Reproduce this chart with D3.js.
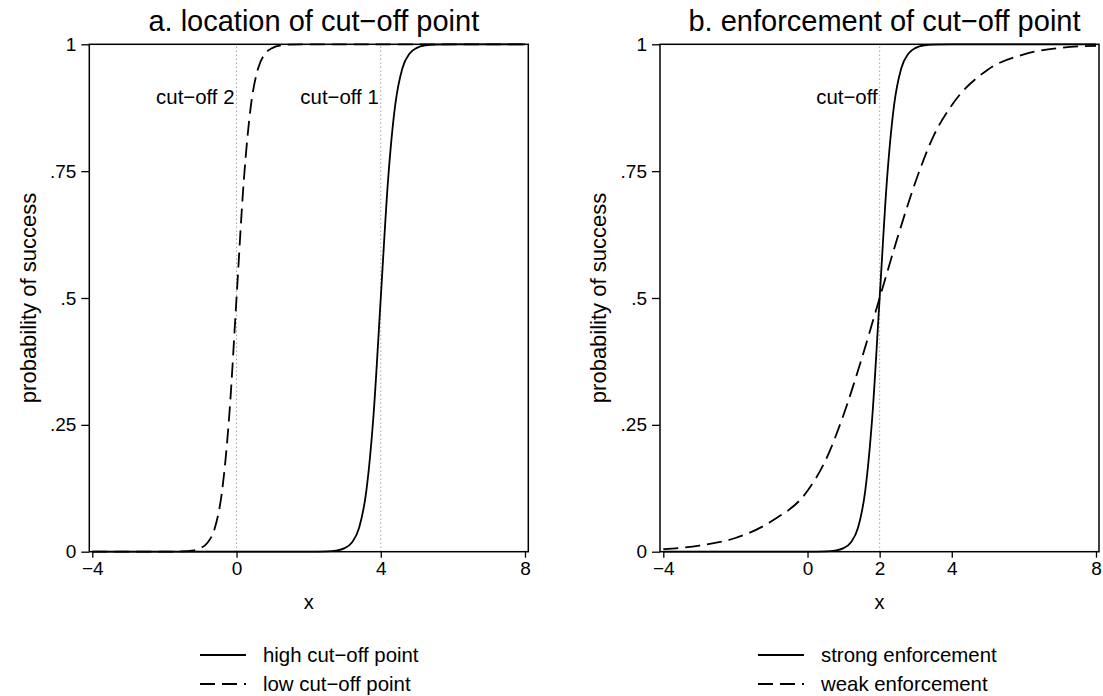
<!DOCTYPE html>
<html>
<head>
<meta charset="utf-8">
<script src="https://cdn.jsdelivr.net/npm/d3@7"></script>
<style>
  body { margin: 0; background: #fff; }
  svg { display: block; font-family: "Liberation Sans", Arial, Helvetica, sans-serif; }
</style>
</head>
<body>
<div id="chart"></div>
<script>
// values
const yTicks = [0, 0.25, 0.5, 0.75, 1];
const yTickLabels = ["0", ".25", ".5", ".75", "1"];
const xTicksA = [-4, 0, 4, 8];
const xTicksB = [-4, 0, 2, 4, 8];

// panel a: high cut-off (solid) and low cut-off (dashed)
const highX = [-4, 2, 2.5, 2.75, 3, 3.2, 3.4, 3.6, 3.8, 4, 4.2, 4.4, 4.6, 4.8, 5, 5.25, 5.5, 6, 8];
const highY = [0, 0.00005, 0.0006, 0.002, 0.007, 0.018, 0.047, 0.12, 0.27, 0.5, 0.73, 0.88, 0.953, 0.982, 0.993, 0.998, 0.9994, 1, 1];
const lowX = [-4, -2, -1.5, -1.25, -1, -0.8, -0.6, -0.4, -0.2, 0, 0.2, 0.4, 0.6, 0.8, 1, 1.25, 1.5, 2, 8];
const lowY = [0, 0.00005, 0.0006, 0.002, 0.007, 0.018, 0.047, 0.12, 0.27, 0.5, 0.73, 0.88, 0.953, 0.982, 0.993, 0.998, 0.9994, 1, 1];

// panel b: strong (solid) and weak (dashed) enforcement
const strongX = [-4, 0, 0.5, 0.75, 1, 1.2, 1.4, 1.6, 1.8, 2, 2.2, 2.4, 2.6, 2.8, 3, 3.25, 3.5, 4, 8];
const strongY = [0, 0.00005, 0.0006, 0.002, 0.007, 0.018, 0.047, 0.12, 0.27, 0.5, 0.73, 0.88, 0.953, 0.982, 0.993, 0.998, 0.9994, 1, 1];
const weakX = [-4, -3, -2, -1, 0, 0.5, 1, 1.5, 2, 2.5, 3, 3.5, 4, 5, 6, 7, 8];
const weakY = [0.005, 0.012, 0.027, 0.06, 0.12, 0.18, 0.27, 0.38, 0.5, 0.62, 0.73, 0.82, 0.88, 0.95, 0.98, 0.993, 0.997];

const W = 1103, H = 696;
const svg = d3.select("#chart").append("svg")
    .attr("width", W)
    .attr("height", H);

const panels = [
    {
        title: "a. location of cut\u2212off point",
        frame: [89.3, 528.3], xRange: [92.3, 525], xTicks: xTicksA,
        series: [
            { xs: highX, ys: highY, dash: null, label: "high cut\u2212off point" },
            { xs: lowX, ys: lowY, dash: "15,7", label: "low cut\u2212off point" }
        ],
        cuts: [{ x: 0, label: "cut\u2212off 2" }, { x: 4, label: "cut\u2212off 1" }],
        yTitleX: 28, legendX: 200
    },
    {
        title: "b. enforcement of cut\u2212off point",
        frame: [660, 1099], xRange: [663.3, 1096], xTicks: xTicksB,
        series: [
            { xs: strongX, ys: strongY, dash: null, label: "strong enforcement" },
            { xs: weakX, ys: weakY, dash: "15,7", label: "weak enforcement" }
        ],
        cuts: [{ x: 2, label: "cut\u2212off" }],
        yTitleX: 598, legendX: 758
    }
];

const plotTop = 44.3, plotBottom = 551.7;
const y = d3.scaleLinear().domain([0, 1]).range([plotBottom, plotTop]);

panels.forEach(p => {
    const x = d3.scaleLinear().domain([-4, 8]).range(p.xRange);
    const g = svg.append("g");

    // cut-off reference lines
    p.cuts.forEach(c => {
        g.append("line")
            .attr("x1", x(c.x)).attr("x2", x(c.x))
            .attr("y1", plotBottom).attr("y2", plotTop)
            .attr("stroke", "#7a7a7a")
            .attr("stroke-width", 1)
            .attr("stroke-dasharray", "1,3");
        g.append("text")
            .attr("x", x(c.x) - 2).attr("y", 97)
            .attr("dy", "0.35em")
            .attr("text-anchor", "end")
            .attr("font-size", 20.4)
            .text(c.label);
    });

    // curves
    const line = d3.line()
        .x(d => x(d[0]))
        .y(d => y(d[1]))
        .curve(d3.curveMonotoneX);
    p.series.forEach(s => {
        g.append("path")
            .datum(d3.zip(s.xs, s.ys))
            .attr("d", line)
            .attr("fill", "none")
            .attr("stroke", "#000")
            .attr("stroke-width", 1.8)
            .attr("stroke-dasharray", s.dash);
    });

    // frame
    g.append("rect")
        .attr("x", p.frame[0]).attr("y", plotTop)
        .attr("width", p.frame[1] - p.frame[0]).attr("height", plotBottom - plotTop)
        .attr("fill", "none")
        .attr("stroke", "#000")
        .attr("stroke-width", 1.5);

    // axes
    const yAxis = d3.axisLeft(y)
        .tickValues(yTicks)
        .tickFormat((d, i) => yTickLabels[i])
        .tickSize(8).tickPadding(5);
    g.append("g")
        .attr("transform", `translate(${p.frame[0]},0)`)
        .call(yAxis)
        .call(a => a.select(".domain").remove());

    const xAxis = d3.axisBottom(x)
        .tickValues(p.xTicks)
        .tickFormat(d => d < 0 ? "\u2212" + Math.abs(d) : d)
        .tickSize(6).tickPadding(4);
    g.append("g")
        .attr("transform", `translate(0,${plotBottom})`)
        .call(xAxis)
        .call(a => a.select(".domain").remove());

    g.selectAll(".tick line").attr("stroke", "#000").attr("stroke-width", 1.3);
    g.selectAll(".tick text")
        .attr("font-size", 19)
        .attr("font-family", "Liberation Sans, Arial, sans-serif")
        .attr("fill", "#000");

    const cx = (p.frame[0] + p.frame[1]) / 2;

    // titles
    g.append("text")
        .attr("x", cx + 5).attr("y", 31)
        .attr("text-anchor", "middle")
        .attr("font-size", 29)
        .text(p.title);
    g.append("text")
        .attr("x", cx).attr("y", 609)
        .attr("text-anchor", "middle")
        .attr("font-size", 20)
        .text("x");
    g.append("text")
        .attr("transform", `translate(${p.yTitleX},${(plotTop + plotBottom) / 2}) rotate(-90)`)
        .attr("dy", "0.35em")
        .attr("text-anchor", "middle")
        .attr("font-size", 22)
        .text("probability of success");

    // legend
    p.series.forEach((s, i) => {
        const ly = 655 + i * 29;
        g.append("line")
            .attr("x1", p.legendX).attr("x2", p.legendX + 46)
            .attr("y1", ly).attr("y2", ly)
            .attr("stroke", "#000")
            .attr("stroke-width", 1.8)
            .attr("stroke-dasharray", s.dash);
        g.append("text")
            .attr("x", p.legendX + 63).attr("y", ly)
            .attr("dy", "0.35em")
            .attr("font-size", 20.4)
            .text(s.label);
    });
});
</script>
</body>
</html>
